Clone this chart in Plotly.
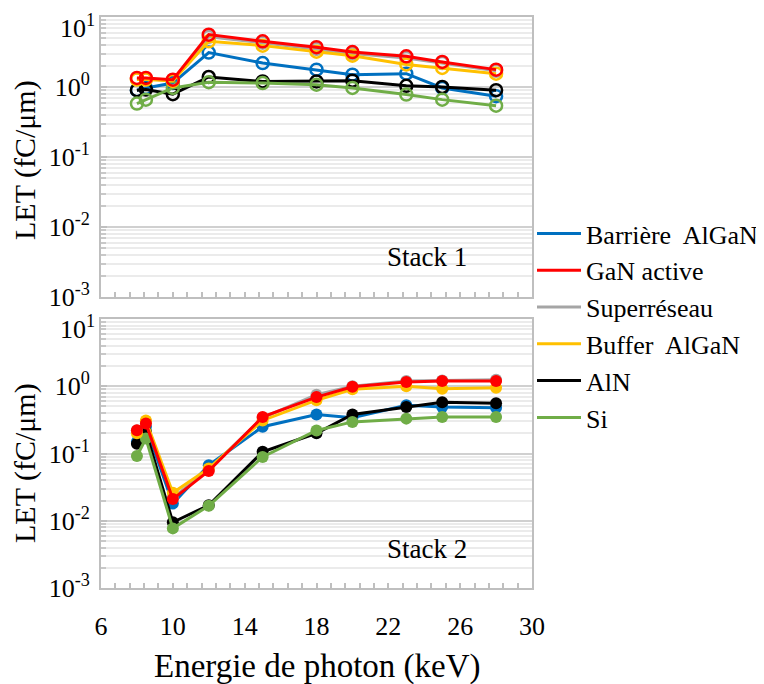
import plotly.graph_objects as go

energy = [8, 8.5, 10, 12, 15, 18, 20, 23, 25, 28]
series_names = ["Barrière\u00a0 AlGaN", "GaN active", "Superréseau", "Buffer\u00a0 AlGaN", "AlN", "Si"]
colors = ["#0070C0", "#FF0000", "#A5A5A5", "#FFC000", "#000000", "#70AD47"]

# Stack 1 (top panel)
s1_barriere = [0.9, 0.97, 1.14, 3.1, 2.2, 1.77, 1.5, 1.55, 0.97, 0.74]
s1_gan = [1.35, 1.35, 1.27, 5.6, 4.5, 3.7, 3.16, 2.74, 2.28, 1.77]
s1_super = [1.3, 1.3, 1.25, 5.2, 4.3, 3.5, 3.0, 2.6, 2.2, 1.7]
s1_buffer = [1.28, 1.28, 1.22, 4.5, 3.9, 3.2, 2.8, 2.1, 1.87, 1.55]
s1_aln = [0.9, 0.92, 0.79, 1.39, 1.2, 1.2, 1.23, 1.04, 1.0, 0.9]
s1_si = [0.58, 0.66, 0.97, 1.17, 1.14, 1.08, 0.97, 0.78, 0.66, 0.54]

# Stack 2 (bottom panel)
s2_barriere = [0.15, 0.25, 0.018, 0.067, 0.25, 0.38, 0.34, 0.52, 0.49, 0.48]
s2_gan = [0.222, 0.279, 0.021, 0.055, 0.35, 0.69, 0.98, 1.16, 1.2, 1.2]
s2_super = [0.22, 0.3, 0.022, 0.058, 0.34, 0.75, 1.0, 1.2, 1.22, 1.25]
s2_buffer = [0.2, 0.31, 0.026, 0.06, 0.31, 0.62, 0.9, 1.0, 0.92, 0.95]
s2_aln = [0.14, 0.21, 0.0095, 0.017, 0.106, 0.2, 0.38, 0.49, 0.58, 0.56]
s2_si = [0.092, 0.167, 0.0077, 0.0167, 0.089, 0.22, 0.295, 0.33, 0.35, 0.35]

y_tickvals = [0.001, 0.01, 0.1, 1, 10]
y_ticktext = ["10<sup>-3</sup>", "10<sup>-2</sup>", "10<sup>-1</sup>", "10<sup>0</sup>", ""]
y_top_label = "10<sup>1</sup>"
x_tickvals = [6, 10, 14, 18, 22, 26, 30]

stack1 = [s1_barriere, s1_gan, s1_super, s1_buffer, s1_aln, s1_si]
stack2 = [s2_barriere, s2_gan, s2_super, s2_buffer, s2_aln, s2_si]
draw_order = [0, 4, 5, 2, 3, 1]

FONT = "Liberation Serif, Tinos, Times New Roman, DejaVu Serif, Noto Serif, serif"

fig = go.Figure()
for i in draw_order:
    fig.add_trace(go.Scatter(
        x=energy, y=stack1[i], mode="lines+markers", showlegend=False,
        line=dict(color=colors[i], width=3),
        marker=dict(symbol="circle-open", size=12, line=dict(width=2.5, color=colors[i])),
        xaxis="x", yaxis="y"))
for i in draw_order:
    fig.add_trace(go.Scatter(
        x=energy, y=stack2[i], mode="lines+markers", showlegend=False,
        line=dict(color=colors[i], width=3),
        marker=dict(symbol="circle", size=12, color=colors[i]),
        xaxis="x2", yaxis="y2"))
for i, name in enumerate(series_names):
    fig.add_trace(go.Scatter(
        x=[None], y=[None], mode="lines", name=name, legendgroup=name,
        line=dict(color=colors[i], width=3), xaxis="x2", yaxis="y2"))

minor_vals = [k * 10 ** n for n in range(-3, 1) for k in range(2, 10)]

yaxis_common = dict(
    type="log", range=[-3, 1], tickmode="array", tickvals=y_tickvals, ticktext=y_ticktext,
    showline=True, linecolor="#BFBFBF", linewidth=2, mirror=True,
    showgrid=True, gridcolor="#D0D0D0", gridwidth=2,
    ticks="inside", ticklen=6, tickcolor="#BFBFBF", tickwidth=2,
    tickfont=dict(family=FONT, size=26, color="#000000"),
    minor=dict(tickmode="array", tickvals=minor_vals, ticks="inside", ticklen=5,
               tickcolor="#C8C8C8", tickwidth=2, showgrid=True, gridcolor="#EBEBEB", gridwidth=2),
    zeroline=False, ticklabelstandoff=4, automargin=False, ticklabeloverflow="allow",
)
xaxis_common = dict(
    range=[6, 30], tickmode="array", tickvals=x_tickvals,
    showline=True, linecolor="#BFBFBF", linewidth=2, mirror=True,
    showgrid=False, zeroline=False,
    ticks="inside", ticklen=5, tickcolor="#BFBFBF", tickwidth=2,
    minor=dict(dtick=0.8, tick0=6, ticks="inside", ticklen=5, tickcolor="#BFBFBF", tickwidth=2, showgrid=False),
    tickfont=dict(family=FONT, size=26, color="#000000"), automargin=False, ticklabeloverflow="allow",
    ticklabelstandoff=14,
)

# The page body adds an 8 px offset; work in figure pixels = screen pixels - 8
OFF = 8
W, H = 764 - OFF, 684 - OFF
L, R, T, B = 101 - OFF, 764 - 532, 17 - OFF, 684 - 588
plot_w = W - L - R
plot_h = H - T - B

def px_to_paper(px, py):
    fx, fy = px - OFF, py - OFF
    return (fx - L) / plot_w, (H - B - fy) / plot_h

_, top_lo = px_to_paper(0, 297)
_, bot_hi = px_to_paper(0, 319)
leg_x, leg_y = px_to_paper(532, 210)

fig.update_layout(
    width=W, height=H,
    margin=dict(l=L, r=R, t=T, b=B, autoexpand=False),
    paper_bgcolor="white", plot_bgcolor="white",
    font=dict(family=FONT, color="#000000"),
    xaxis=dict(xaxis_common, domain=[0, 1], anchor="y", showticklabels=False),
    yaxis=dict(yaxis_common, domain=[top_lo, 1], anchor="x"),
    xaxis2=dict(xaxis_common, domain=[0, 1], anchor="y2", matches="x"),
    yaxis2=dict(yaxis_common, domain=[0, bot_hi], anchor="x2"),
    legend=dict(x=leg_x, y=leg_y, xanchor="left", yanchor="top",
                font=dict(family=FONT, size=26, color="#000000"),
                tracegroupgap=0, bgcolor="rgba(0,0,0,0)", itemwidth=44),
    showlegend=True,
)

# Top decade labels, nudged inside like the original
for yref in ["y", "y2"]:
    fig.add_annotation(text=y_top_label, x=0, y=1, xref="paper", yref=yref, showarrow=False,
                       xanchor="right", yanchor="middle", xshift=-4, yshift=-9,
                       font=dict(family=FONT, size=26))

x1, y1 = px_to_paper(427, 257)
x2, y2 = px_to_paper(427, 549)
xl, yl1 = px_to_paper(25, 160)
_, yl2 = px_to_paper(25, 463)
xt, yt = px_to_paper(317, 666)
ann_common = dict(xref="paper", yref="paper", showarrow=False, xanchor="center", yanchor="middle")
fig.add_annotation(text="Stack 1", x=x1, y=y1, font=dict(family=FONT, size=27), **ann_common)
fig.add_annotation(text="Stack 2", x=x2, y=y2, font=dict(family=FONT, size=27), **ann_common)
fig.add_annotation(text="LET (fC/μm)", x=xl, y=yl1, textangle=-90,
                   font=dict(family=FONT, size=30), **ann_common)
fig.add_annotation(text="LET (fC/μm)", x=xl, y=yl2, textangle=-90,
                   font=dict(family=FONT, size=30), **ann_common)
fig.add_annotation(text="Energie de photon (keV)", x=xt, y=yt,
                   font=dict(family=FONT, size=33), **ann_common)

fig.write_html("out.html")
